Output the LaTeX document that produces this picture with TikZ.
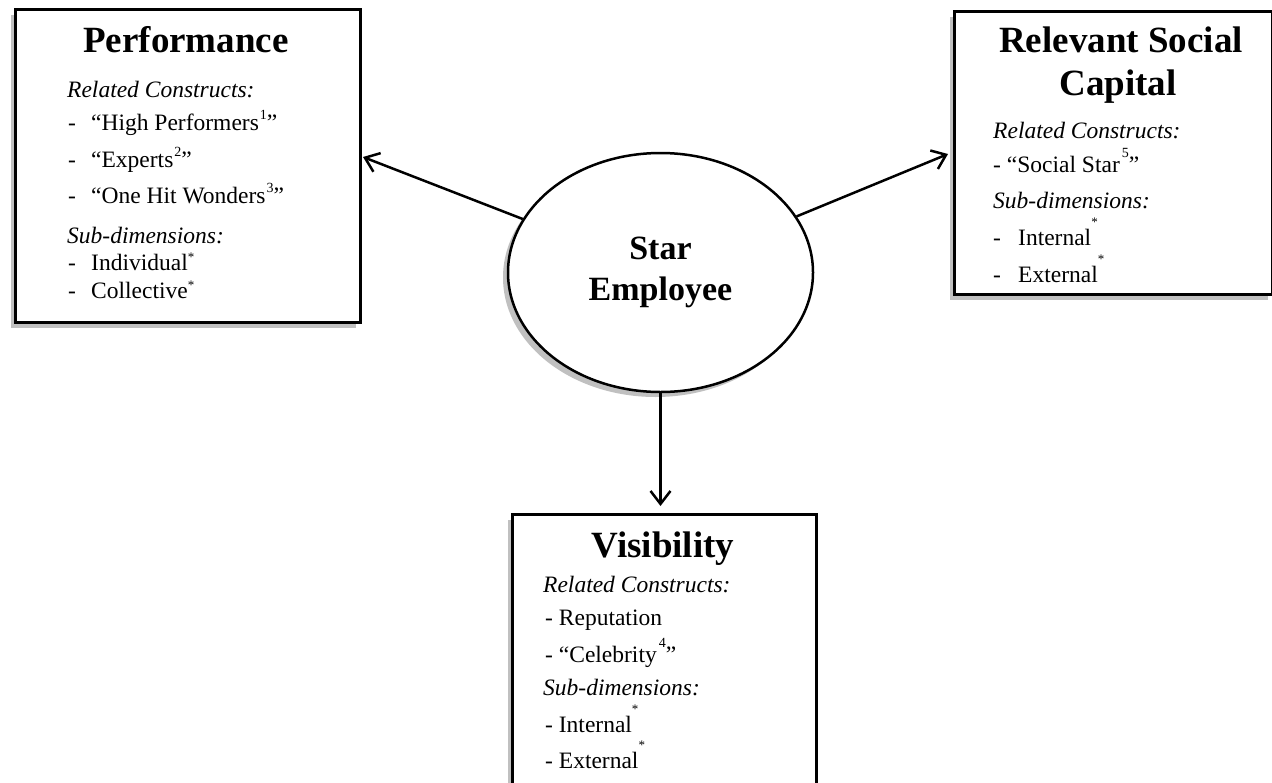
\documentclass[tikz,border=0pt]{standalone}
\usepackage{fontspec}
\setmainfont{Liberation Serif}
\usetikzlibrary{arrows.meta,shapes.geometric,shadows}
\definecolor{shadowgray}{HTML}{C0C0C0}
\newcommand{\mysup}[1]{\kern1pt\raisebox{11pt}{\fontsize{14}{14}\selectfont #1}}
\newcommand{\mysupb}[1]{\kern2pt\raisebox{15pt}{\fontsize{14}{14}\selectfont #1}}
\newcommand{\myast}[1]{\raisebox{9pt}{\fontsize{13}{13}\selectfont #1}}
\newcommand{\hisup}[1]{\raisebox{19pt}{\fontsize{13}{13}\selectfont #1}}
\newcommand{\mydash}[1]{\makebox[#1][l]{-}}
\tikzset{
  box/.style={rectangle, draw, line width=3pt, fill=white, anchor=north west, inner sep=0pt,
    general shadow={fill=shadowgray, shadow xshift=-5pt, shadow yshift=-5pt}},
  ttl/.style={anchor=base, inner sep=0pt, font=\fontsize{37}{43}\selectfont\bfseries},
  txt/.style={anchor=base west, inner sep=0pt, font=\fontsize{23.5}{27}\selectfont},
  itxt/.style={anchor=base west, inner sep=0pt, font=\fontsize{23.5}{27}\selectfont\itshape},
  arr/.style={line width=2.5pt, -{Straight Barb[length=13pt,width=20pt]}},
  starnode/.style={ellipse, draw, line width=2.5pt, fill=white, inner sep=0pt,
    minimum width=305pt, minimum height=239pt, align=center,
    font=\fontsize{34}{41}\selectfont\bfseries,
    general shadow={fill=shadowgray, shadow xshift=-5pt, shadow yshift=-5pt}},
}
\begin{document}
\begin{tikzpicture}[x=1pt,y=-1pt]
\clip (0,0) rectangle (1272,782);
\fill[white] (0,0) rectangle (1272,782);

% boxes
\node[box, minimum width=345pt, minimum height=313pt] (perf) at (14,8) {};
\node[box, minimum width=318pt, minimum height=283pt] (rsc) at (953,10) {};
\node[box, minimum width=304pt, minimum height=300pt] (vis) at (511,513) {};

% central ellipse
\node[starnode] (star) at (660.5,272.5) {Star\\Employee};

% Performance
\node[ttl] (pt) at (186,52) {Performance};
\node[itxt] (pa) at (67,97) {Related Constructs:};
\node[txt] (pb) at (68,130) {\mydash{23pt}“High Performers\mysup{1}”};
\node[txt] (pc) at (68,167) {\mydash{23pt}“Experts\mysup{2}”};
\node[txt] (pd) at (68,203) {\mydash{23pt}“One Hit Wonders\mysup{3}”};
\node[itxt] (pe) at (67,243) {Sub-dimensions:};
\node[txt] (pf) at (68,270) {\mydash{23pt}Individual\myast{*}};
\node[txt] (pg) at (68,298) {\mydash{23pt}Collective\myast{*}};

% Relevant Social Capital
\node[ttl] (ra) at (1121,52) {Relevant Social};
\node[ttl] (rb) at (1118,95) {Capital};
\node[itxt] (rc) at (993,138) {Related Constructs:};
\node[txt] (rd) at (993,172) {- “Social Star\mysupb{5}”};
\node[itxt] (re) at (993,208) {Sub-dimensions:};
\node[txt] (rf) at (993,245) {\mydash{25pt}Internal\hisup{*}};
\node[txt] (rg) at (993,282) {\mydash{25pt}External\hisup{*}};

% Visibility
\node[ttl] (va) at (663,557) {Visibility};
\node[itxt] (vb) at (543,592) {Related Constructs:};
\node[txt] (vc) at (545,625) {- Reputation};
\node[txt] (vd) at (545,662) {- “Celebrity\mysupb{4}”};
\node[itxt] (ve) at (543,695) {Sub-dimensions:};
\node[txt] (vf) at (545,732) {- Internal\hisup{*}};
\node[txt] (vg) at (545,768) {- External\hisup{*}};

% arrows
\coordinate (tl) at (363,157);
\coordinate (tr) at (948,154);
\coordinate (tb) at (660.5,506);
\draw[arr] (star) -- (tl);
\draw[arr] (star) -- (tr);
\draw[arr] (star) -- (tb);
\end{tikzpicture}
\end{document}
